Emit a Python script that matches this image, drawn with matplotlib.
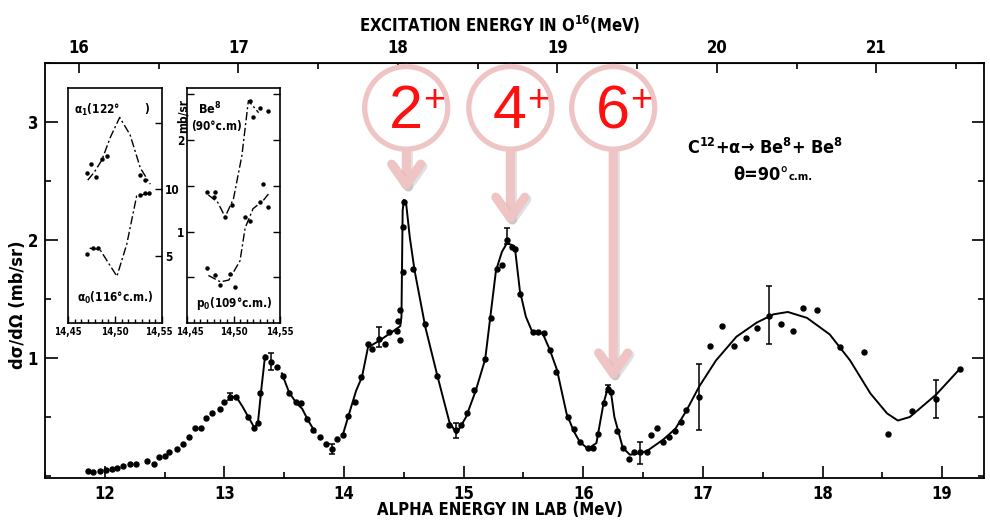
import numpy as np
import matplotlib
matplotlib.use("Agg")
import matplotlib.pyplot as plt
from matplotlib.patches import Ellipse
from matplotlib.ticker import MultipleLocator, FixedLocator
from matplotlib.transforms import ScaledTranslation
import matplotlib.patheffects as pe

plt.rcParams['font.family'] = ['DejaVu Sans']
plt.rcParams['font.stretch'] = 'condensed'
plt.rcParams['font.weight'] = 'bold'
plt.rcParams['mathtext.default'] = 'regular'

# ---- main spectrum: measured points (alpha energy in MeV, dsigma/dOmega in mb/sr)
point_E = np.array([11.86, 11.90, 11.96, 12.01, 12.06, 12.10, 12.15, 12.21, 12.26, 12.35,
                    12.41, 12.45, 12.50, 12.54, 12.60, 12.65, 12.70, 12.75, 12.80, 12.85,
                    12.90, 12.96, 13.00, 13.05, 13.10, 13.20, 13.25, 13.28, 13.30, 13.34,
                    13.39, 13.44, 13.49, 13.54, 13.60, 13.64, 13.69, 13.74, 13.80, 13.85,
                    13.90, 13.94, 13.99, 14.03, 14.09, 14.14, 14.20, 14.23, 14.29, 14.34,
                    14.38, 14.44, 14.45, 14.47, 14.47, 14.49, 14.49, 14.50, 14.58, 14.68,
                    14.78, 14.88, 14.94, 14.98, 15.03, 15.09, 15.18, 15.23, 15.28, 15.32,
                    15.36, 15.40, 15.43, 15.47, 15.58, 15.62, 15.67, 15.72, 15.77, 15.87,
                    15.92, 15.97, 16.04, 16.08, 16.12, 16.17, 16.21, 16.23, 16.28, 16.33,
                    16.38, 16.42, 16.47, 16.53, 16.57, 16.62, 16.67, 16.72, 16.77, 16.82,
                    16.86, 16.97, 17.06, 17.16, 17.26, 17.36, 17.45, 17.55, 17.65, 17.75,
                    17.84, 17.95, 18.15, 18.35, 18.55, 18.75, 18.95, 19.15])
point_y = np.array([0.04, 0.036, 0.04, 0.05, 0.056, 0.07, 0.084, 0.10, 0.10, 0.126,
                    0.098, 0.16, 0.17, 0.20, 0.23, 0.27, 0.33, 0.41, 0.41, 0.49,
                    0.53, 0.57, 0.63, 0.67, 0.67, 0.50, 0.41, 0.45, 0.70, 1.01,
                    0.97, 0.92, 0.85, 0.70, 0.63, 0.62, 0.48, 0.39, 0.33, 0.27,
                    0.23, 0.31, 0.35, 0.51, 0.63, 0.84, 1.12, 1.08, 1.16, 1.12,
                    1.22, 1.23, 1.31, 1.41, 1.15, 1.73, 2.11, 2.32, 1.75, 1.29,
                    0.85, 0.43, 0.39, 0.43, 0.53, 0.73, 0.99, 1.34, 1.75, 1.79,
                    2.00, 1.94, 1.92, 1.54, 1.22, 1.22, 1.21, 1.07, 0.88, 0.50,
                    0.40, 0.29, 0.24, 0.24, 0.36, 0.62, 0.74, 0.71, 0.38, 0.24,
                    0.14, 0.20, 0.20, 0.20, 0.35, 0.41, 0.29, 0.33, 0.38, 0.46,
                    0.56, 0.67, 1.10, 1.27, 1.10, 1.17, 1.25, 1.36, 1.29, 1.23,
                    1.42, 1.41, 1.09, 1.05, 0.36, 0.55, 0.65, 0.91])

# ---- drawn curve (nan = gap in the hand-drawn line)
curve_E = np.array([13.05, 13.10, 13.15, 13.20, 13.25, 13.28, 13.31, 13.34, np.nan,
                    13.48, 13.54, 13.60, 13.65, 13.70, 13.76, np.nan,
                    13.99, 14.04, 14.10, 14.15, 14.20, 14.30, 14.40, 14.47, 14.48, 14.485,
                    14.49, 14.50, 14.52, 14.55, 14.59, 14.68, 14.78, 14.88, 14.94, 15.02,
                    15.10, 15.18, 15.27, 15.32, 15.36, 15.40, 15.43, 15.47, 15.52, 15.57,
                    15.62, 15.66, 15.72, 15.78, 15.86, 15.92, 15.97, 16.04, 16.11, 16.17,
                    16.21, 16.23, 16.26, 16.33, 16.39, 16.45, 16.53, 16.67, 16.77, 16.86,
                    16.97, 17.11, 17.28, 17.45, 17.59, 17.71, 17.87, 18.06, 18.23, 18.40,
                    18.54, 18.63, 18.73, 18.95, 19.15])
curve_y = np.array([0.67, 0.67, 0.59, 0.50, 0.41, 0.45, 0.75, 1.02, np.nan,
                    0.87, 0.71, 0.62, 0.57, 0.47, 0.37, np.nan,
                    0.35, 0.52, 0.72, 0.84, 1.09, 1.15, 1.22, 1.27, 1.35, 1.80,
                    2.25, 2.34, 2.30, 2.02, 1.74, 1.26, 0.85, 0.46, 0.36, 0.50,
                    0.72, 0.99, 1.74, 1.90, 1.97, 1.96, 1.92, 1.57, 1.35, 1.23,
                    1.21, 1.21, 1.07, 0.90, 0.53, 0.38, 0.29, 0.23, 0.28, 0.62,
                    0.76, 0.72, 0.50, 0.24, 0.18, 0.19, 0.21, 0.31, 0.40, 0.55,
                    0.76, 0.98, 1.18, 1.30, 1.37, 1.39, 1.34, 1.20, 0.98, 0.70,
                    0.53, 0.47, 0.50, 0.69, 0.91])

# ---- error bars
err_E = np.array([13.05, 13.39, 13.90, 14.29, 14.94, 15.36, 16.21, 16.47, 16.97, 17.55, 18.95])
err_y = np.array([0.67, 0.97, 0.23, 1.16, 0.39, 2.02, 0.74, 0.20, 0.67, 1.36, 0.65])
err_lo = np.array([0.64, 0.90, 0.19, 1.09, 0.32, 1.97, 0.71, 0.10, 0.39, 1.12, 0.49])
err_hi = np.array([0.70, 1.04, 0.27, 1.26, 0.45, 2.10, 0.77, 0.29, 0.95, 1.61, 0.81])

# ---- level labels
levels = ["2", "4", "6"]
level_E = [14.52, 15.39, 16.25]
level_tip = [2.40, 2.12, 0.80]

# ---- top axis (excitation energy in O16)
ex_ticks = [16, 17, 18, 19, 20, 21]
ex_minor = [16.5, 17.5, 18.5, 19.5, 20.5, 21.5]

# ---- insets (alpha energy 14.45 - 14.55 MeV)
a1_dots_E = [14.470, 14.475, 14.480, 14.486, 14.491, 14.527, 14.532]
a1_dots_y = [11.2, 11.9, 10.9, 12.3, 12.5, 11.1, 10.7]
a1_line_E = [14.471, 14.478, 14.486, 14.495, 14.505, 14.516, 14.527, 14.5375]
a1_line_y = [10.7, 11.3, 12.2, 13.9, 15.4, 14.1, 11.6, 10.4]
a0_dots_E = [14.470, 14.477, 14.482, 14.527, 14.532, 14.536]
a0_dots_y = [5.2, 5.6, 5.6, 9.6, 9.7, 9.7]
a0_line_E = [14.473, 14.484, 14.502, 14.5125, 14.523, 14.5375]
a0_line_y = [5.6, 5.5, 3.5, 5.9, 9.5, 9.75]

be_dots_E = [14.4714, 14.479, 14.480, 14.491, 14.498, 14.518, 14.521, 14.529, 14.5375]
be_dots_y = [1.43, 1.38, 1.43, 1.16, 1.29, 2.43, 2.25, 2.35, 2.32]
be_line_E = [14.473, 14.483, 14.491, 14.500, 14.509, 14.516, 14.522, 14.527]
be_line_y = [1.40, 1.32, 1.16, 1.36, 1.83, 2.43, 2.36, 2.30]
p0_dots_E = [14.471, 14.480, 14.486, 14.496, 14.502, 14.5125, 14.518, 14.529, 14.532, 14.5375]
p0_dots_y = [0.60, 0.52, 0.42, 0.54, 0.39, 1.16, 1.12, 1.32, 1.52, 1.27]
p0_line_E = [14.473, 14.486, 14.495, 14.507, 14.5125, 14.521, 14.532, 14.5375]
p0_line_y = [0.52, 0.45, 0.47, 0.68, 1.04, 1.25, 1.34, 1.41]

inset_ticks = [14.45, 14.50, 14.55]
inset_ticklabels = ["14,45", "14,50", "14,55"]

fig = plt.figure(figsize=(9.9, 5.27), dpi=100)
ax = fig.add_axes([45/990, 1-478/527, 939/990, 415/527])

ax.plot(curve_E, curve_y, color='k', lw=1.4)
ax.plot(point_E, point_y, 'o', color='k', ms=3.6)
ax.errorbar(err_E, err_y, yerr=[err_y-err_lo, err_hi-err_y], fmt='none',
            ecolor='k', elinewidth=1.1, capsize=2.5, capthick=1.1)

ax.set_xlim(11.5, 19.35)
ax.set_ylim(-0.017, 3.5)
ax.xaxis.set_major_locator(MultipleLocator(1))
ax.xaxis.set_minor_locator(MultipleLocator(0.5))
ax.yaxis.set_major_locator(FixedLocator([1, 2, 3]))
ax.yaxis.set_minor_locator(MultipleLocator(0.5))
ax.tick_params(which='both', direction='in', top=False, right=True, width=1.2, labelsize=12)
ax.tick_params(which='major', length=9, pad=5)
ax.tick_params(which='minor', length=4)
for s in ax.spines.values():
    s.set_linewidth(1.3)

top = ax.secondary_xaxis('top', functions=(lambda e: 7.162 + 0.75*e, lambda x: (x - 7.162)/0.75))
top.xaxis.set_major_locator(FixedLocator(ex_ticks))
top.xaxis.set_minor_locator(FixedLocator(ex_minor))
top.tick_params(which='both', direction='in', width=1.2, labelsize=12)
top.tick_params(which='major', length=7, pad=4)
top.tick_params(which='minor', length=4)

fig.text(0.505, 1-25/527, r"EXCITATION ENERGY IN O$^{16}$(MeV)", ha='center', va='center', fontsize=12)
fig.text(0.505, 1-510/527, "ALPHA ENERGY IN LAB (MeV)", ha='center', va='center', fontsize=12)
fig.text(18/990, 1-305/527, "dσ/dΩ (mb/sr)", rotation=90, ha='center', va='center', fontsize=13)

ax.text(17.52, 2.78, r"C$^{12}$+α→ Be$^{8}$+ Be$^{8}$", ha='center', va='center', fontsize=13)
ax.text(17.25, 2.55, "θ=90°", ha='left', va='center', fontsize=13)
ax.text(17.72, 2.53, "c.m.", ha='left', va='center', fontsize=8)

# spin labels with arrows
pink = '#efc4c4'
for lab, e, tip in zip(levels, level_E, level_tip):
    ax.add_patch(Ellipse((e, 3.12), 0.694, 0.70, facecolor='white', edgecolor=pink,
                         lw=3.8, zorder=6, clip_on=False))
    ax.text(e - 0.005, 3.08, lab, color='#ff1010', fontsize=44, fontweight='normal',
            fontstretch='normal', family='Liberation Sans', ha='center', va='center', zorder=7)
    ax.text(e + 0.235, 3.18, "+", color='#ff1010', fontsize=27, fontweight='normal',
            fontstretch='normal', family='Liberation Sans', ha='center', va='center', zorder=7)
    ax.annotate('', xy=(e, tip), xytext=(e, 3.12 - 0.35),
                arrowprops=dict(arrowstyle='->,head_length=1.5,head_width=1.05', lw=6.5,
                                color=pink, shrinkA=0, shrinkB=0, capstyle='round',
                                joinstyle='round',
                                path_effects=[pe.SimpleLineShadow(offset=(1.5, -1.5),
                                                                  shadow_color='0.45', alpha=0.22),
                                              pe.Normal()]),
                zorder=5)

# insets
ax1 = fig.add_axes([68/990, 1-323/527, 94/990, 235/527])
ax2 = fig.add_axes([187/990, 1-323/527, 93/990, 235/527])
dashdot = (0, (6, 2, 1.5, 2))
ax1.plot(a1_line_E, a1_line_y, color='k', lw=1, ls=dashdot)
ax1.plot(a0_line_E, a0_line_y, color='k', lw=1, ls=dashdot)
ax1.plot(a1_dots_E, a1_dots_y, 'o', color='k', ms=2.2)
ax1.plot(a0_dots_E, a0_dots_y, 'o', color='k', ms=2.2)
ax1.set_ylim(0, 17.6)
ax1.yaxis.tick_right()
ax1.set_yticks([5, 10, 15], ['5', '10', ''])

ax2.plot(be_line_E, be_line_y, color='k', lw=1, ls=dashdot)
ax2.plot(p0_line_E, p0_line_y, color='k', lw=1, ls=dashdot)
ax2.plot(be_dots_E, be_dots_y, 'o', color='k', ms=2.2)
ax2.plot(p0_dots_E, p0_dots_y, 'o', color='k', ms=2.2)
ax2.set_ylim(0, 2.57)
ax2.set_yticks([0.5, 1, 1.5, 2, 2.5], ['', '1', '', '2', ''])

for a in (ax1, ax2):
    a.set_xlim(14.45, 14.55)
    a.set_xticks(inset_ticks, inset_ticklabels)
    a.xaxis.set_minor_locator(MultipleLocator(1/140))
    a.tick_params(which='both', direction='in', labelsize=7, width=1, pad=3)
    a.tick_params(axis='y', labelsize=8.5)
    a.tick_params(which='major', length=5)
    a.tick_params(which='minor', length=3)
    for s in a.spines.values():
        s.set_linewidth(1.2)
ax1.tick_params(axis='y', left=False, right=True, pad=2)
ax2.tick_params(axis='y', left=True, right=True, pad=2)

# nudge the touching inset tick labels apart
lbl = ax1.get_xticklabels()[-1]
lbl.set_transform(lbl.get_transform() + ScaledTranslation(-3/100, 0, fig.dpi_scale_trans))
lbl = ax2.get_xticklabels()[0]
lbl.set_transform(lbl.get_transform() + ScaledTranslation(3/100, 0, fig.dpi_scale_trans))

ax1.text(0.06, 0.905, r"$\alpha_1$(122°       )", transform=ax1.transAxes, fontsize=8.5, va='center')
ax1.text(0.5, 0.105, r"$\alpha_0$(116°c.m.)", transform=ax1.transAxes, fontsize=8.5,
         ha='center', va='center')
ax2.text(0.12, 0.91, r"Be$^{8}$", transform=ax2.transAxes, fontsize=9, va='center')
ax2.text(0.04, 0.835, "(90°c.m)", transform=ax2.transAxes, fontsize=8.5, va='center')
ax2.text(0.1, 0.085, r"p$_0$(109°c.m.)", transform=ax2.transAxes, fontsize=8.5, va='center')
fig.text(183/990, 1-116/527, "mb/sr", rotation=90, ha='center', va='center', fontsize=8.5)

fig.savefig('out.png', dpi=100)
